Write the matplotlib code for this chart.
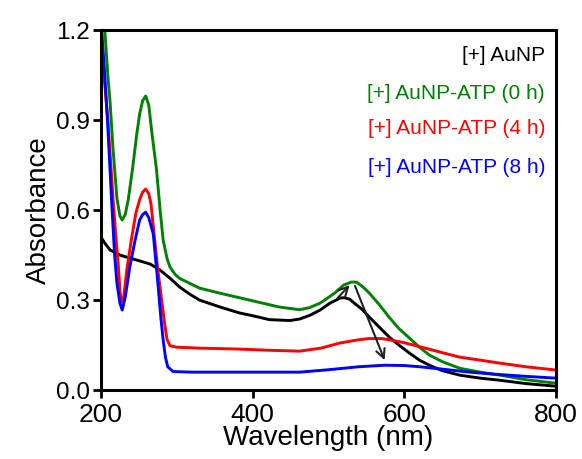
import matplotlib
matplotlib.use("Agg")
import matplotlib.pyplot as plt

plt.rcParams['font.family'] = ['Liberation Sans', 'DejaVu Sans']

# Data (wavelength in nm, absorbance)
wl_black = [200, 205, 212, 225, 238, 252, 265, 278, 291, 304, 317, 330, 357, 383, 400, 422, 449, 462,
            476, 489, 502, 510, 515, 521, 528, 534, 544, 554, 567, 580, 593, 607, 620, 633, 650, 673,
            700, 726, 760, 800]
abs_black = [0.51, 0.49, 0.467, 0.45, 0.44, 0.43, 0.42, 0.40, 0.373, 0.343, 0.32, 0.30, 0.277, 0.257,
             0.248, 0.235, 0.232, 0.237, 0.25, 0.267, 0.29, 0.30, 0.307, 0.308, 0.303, 0.29, 0.27,
             0.243, 0.21, 0.177, 0.15, 0.123, 0.10, 0.083, 0.065, 0.05, 0.04, 0.033, 0.022, 0.013]

wl_0h = [200, 205, 209, 212, 216, 221, 225, 228, 232, 236, 242, 247, 251, 255, 259, 263, 267, 273,
         278, 282, 287, 291, 298, 304, 330, 357, 396, 435, 462, 475, 489, 508, 520, 530, 537, 545,
         554, 567, 580, 593, 607, 620, 633, 650, 673, 700, 726, 760, 800]
abs_0h = [1.40, 1.20, 1.05, 0.96, 0.80, 0.64, 0.58, 0.567, 0.585, 0.635, 0.745, 0.85, 0.92, 0.965,
          0.98, 0.95, 0.86, 0.74, 0.60, 0.50, 0.44, 0.41, 0.385, 0.372, 0.34, 0.323, 0.30, 0.277,
          0.268, 0.275, 0.29, 0.323, 0.35, 0.36, 0.36, 0.345, 0.323, 0.285, 0.243, 0.205, 0.173,
          0.143, 0.117, 0.095, 0.073, 0.06, 0.05, 0.035, 0.023]

wl_4h = [200, 204, 209, 213, 216, 220, 223, 225, 227, 230, 234, 240, 246, 251, 255, 259, 263, 266,
         270, 275, 280, 284, 287, 291, 300, 330, 380, 420, 462, 490, 515, 540, 554, 570, 580, 600,
         620, 650, 673, 700, 726, 760, 800]
abs_4h = [1.22, 1.05, 0.90, 0.75, 0.633, 0.50, 0.41, 0.33, 0.293, 0.31, 0.40, 0.50, 0.59, 0.635,
          0.66, 0.67, 0.655, 0.62, 0.52, 0.40, 0.30, 0.22, 0.17, 0.148, 0.143, 0.14, 0.137, 0.133,
          0.13, 0.14, 0.157, 0.168, 0.172, 0.172, 0.168, 0.158, 0.145, 0.125, 0.11, 0.10, 0.09,
          0.078, 0.067]

wl_8h = [200, 205, 209, 214, 218, 221, 225, 228, 232, 238, 245, 251, 255, 259, 263, 269, 275, 279,
         282, 285, 288, 295, 320, 400, 462, 500, 540, 574, 600, 620, 650, 686, 720, 760, 800]
abs_8h = [1.23, 1.05, 0.88, 0.633, 0.45, 0.357, 0.29, 0.267, 0.31, 0.41, 0.50, 0.567, 0.585, 0.593,
          0.575, 0.52, 0.357, 0.24, 0.167, 0.11, 0.078, 0.062, 0.06, 0.06, 0.06, 0.068, 0.078, 0.083,
          0.082, 0.078, 0.07, 0.06, 0.053, 0.046, 0.04]

labels = ['[+] AuNP', '[+] AuNP-ATP (0 h)', '[+] AuNP-ATP (4 h)', '[+] AuNP-ATP (8 h)']
colors = ['black', '#008000', '#ff0000', '#0000ff']

x_ticks = [200, 400, 600, 800]
y_ticks = [0.0, 0.3, 0.6, 0.9, 1.2]

fig = plt.figure(figsize=(5.82, 4.59), dpi=100)
ax = fig.add_axes([0.1735, 0.150, 0.7818, 0.7846])

series = [(wl_black, abs_black), (wl_0h, abs_0h), (wl_4h, abs_4h), (wl_8h, abs_8h)]
for (x, y), c in zip(series, colors):
    ax.plot(x, y, color=c, lw=2.1, solid_joinstyle='round')

ax.set_xlim(200, 800)
ax.set_ylim(0, 1.2)
ax.set_xticks(x_ticks)
ax.set_yticks(y_ticks)
ax.set_yticklabels([f'{v:.1f}' for v in y_ticks])
ax.tick_params(direction='out', length=6, width=2, top=False, right=False)
ax.tick_params(axis='x', labelsize=19, pad=3)
ax.tick_params(axis='y', labelsize=17.5, pad=2)
for s in ax.spines.values():
    s.set_linewidth(2.2)

ax.set_xlabel('Wavelength (nm)', fontsize=20, labelpad=-1)
ax.set_ylabel('Absorbance', fontsize=20, labelpad=3)

# Legend as coloured text
ys = [0.929, 0.823, 0.727, 0.618]
for lab, c, yy in zip(labels, colors, ys):
    ax.text(0.976, yy, lab, color=c, fontsize=15, ha='right', va='center',
            transform=ax.transAxes)

# Arrows
ax.annotate('', xy=(528, 0.35), xytext=(512, 0.307),
            arrowprops=dict(arrowstyle='->', color='#222222', lw=1.5,
                            mutation_scale=16, shrinkA=0, shrinkB=0))
ax.annotate('', xy=(574, 0.10), xytext=(535, 0.347),
            arrowprops=dict(arrowstyle='->', color='#222222', lw=1.5,
                            mutation_scale=16, shrinkA=0, shrinkB=0))

fig.savefig('out.png', dpi=100)
